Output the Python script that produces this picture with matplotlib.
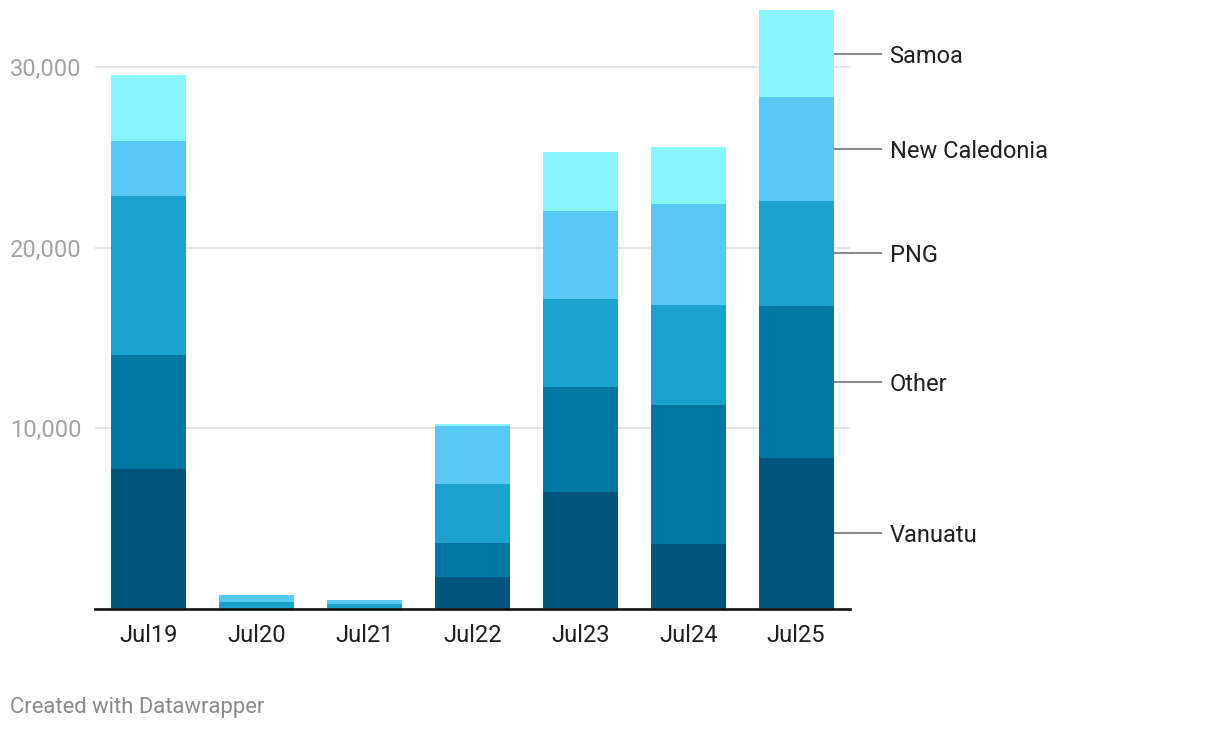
import matplotlib
matplotlib.use("Agg")
import matplotlib.pyplot as plt
import numpy as np

plt.rcParams['font.family'] = ['Roboto', 'DejaVu Sans']

categories = ["Jul19", "Jul20", "Jul21", "Jul22", "Jul23", "Jul24", "Jul25"]
series_names = ["Vanuatu", "Other", "PNG", "New Caledonia", "Samoa"]
vanuatu = [7750, 20, 15, 1770, 6470, 3600, 8360]
other = [6310, 40, 30, 1880, 5820, 7690, 8410]
png = [8800, 330, 235, 3270, 4870, 5530, 5810]
new_caledonia = [3040, 380, 220, 3210, 4870, 5590, 5750]
samoa = [3650, 20, 10, 110, 3260, 3160, 4820]
colors = ["#00557d", "#0077a3", "#1aa1cd", "#58c9f6", "#89f6ff"]
yticks = [10000, 20000, 30000]
ytick_labels = ["10,000", "20,000", "30,000"]

series = [vanuatu, other, png, new_caledonia, samoa]

W, H = 1220, 730
fig = plt.figure(figsize=(W / 100, H / 100), dpi=100)
ax = fig.add_axes([95 / W, 1 - 609 / H, 755 / W, 609 / H])

x = np.arange(len(categories))
bottom = np.zeros(len(categories))
for vals, col in zip(series, colors):
    v = np.array(vals, dtype=float)
    ax.bar(x, v, bottom=bottom, width=0.695, color=col, zorder=3, linewidth=0)
    bottom += v

ax.set_xlim(-0.5, 6.5)
ax.set_ylim(0, 609 / 18.07 * 1000)

for s in ["top", "right", "left"]:
    ax.spines[s].set_visible(False)
ax.spines["bottom"].set_color("#1a1a1a")
ax.spines["bottom"].set_linewidth(2)
ax.spines["bottom"].set_zorder(5)

ax.set_yticks(yticks)
ax.set_yticklabels(ytick_labels)
ax.tick_params(axis="y", length=0, pad=10, labelsize=17, labelcolor="#a3a3a3")
for yt in yticks:
    ax.axhline(yt, color="#e3e3e3", linewidth=1.3, zorder=1)

ax.set_xticks(x)
ax.set_xticklabels(categories)
ax.tick_params(axis="x", length=0, pad=11, labelsize=17, labelcolor="#1f1f1f")

# right-side labels for last bar
last = len(categories) - 1
cum = 0.0
bar_right = last + 0.695 / 2
for name, vals in zip(series_names, series):
    mid = cum + vals[last] / 2
    cum += vals[last]
    ax.plot([bar_right, bar_right + 48 / 107.9], [mid, mid], color="#8a8a8a",
            linewidth=1.5, clip_on=False, zorder=4, solid_capstyle="butt")
    ax.text(bar_right + 56 / 107.9, mid, name, fontsize=17, color="#1f1f1f",
            va="center_baseline", ha="left", clip_on=False)

fig.text(10 / W, 1 - 708 / H, "Created with Datawrapper", fontsize=15.8,
         color="#8a8a8a", va="center", ha="left")

fig.savefig("out.png", dpi=100)
